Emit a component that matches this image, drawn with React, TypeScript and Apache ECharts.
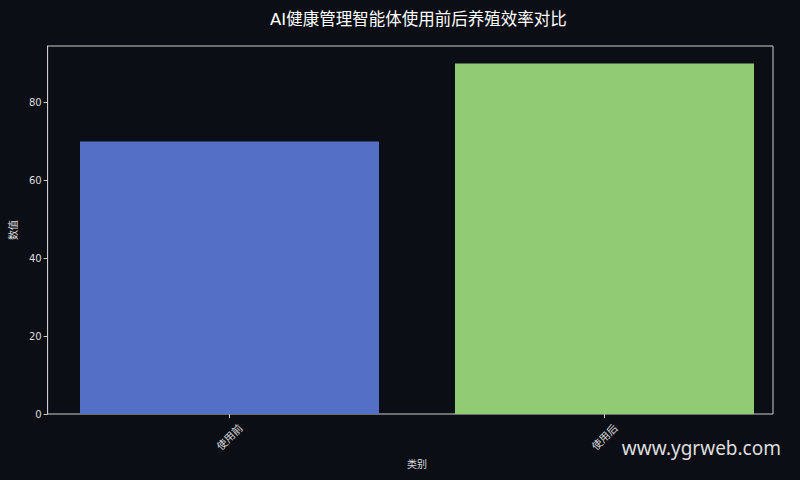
import React, { useEffect, useRef } from "react";
import * as echarts from "echarts";

const categories = ["使用前", "使用后"];
const values = [70, 90];
const barColors = ["#5470c6", "#91cc75"];
const yTicks = [0, 20, 40, 60, 80];

export default function App() {
  const ref = useRef<HTMLDivElement>(null);
  useEffect(() => {
    const chart = echarts.init(ref.current!, null, { renderer: "svg" });
    const font = "'DejaVu Sans', 'Noto Sans CJK SC', sans-serif";
    chart.setOption({
      animation: false,
      backgroundColor: "#0c0e15",
      title: {
        text: "AI健康管理智能体使用前后养殖效率对比",
        left: 265,
        top: 6,
        textStyle: { color: "#ffffff", fontSize: 16.5, fontWeight: "normal", fontFamily: font },
      },
      grid: [
        { left: 42, width: 750, top: 46, bottom: 66 },
        { left: 46, right: 27, top: 46, bottom: 66, show: true, borderColor: "#cccccc", borderWidth: 1, backgroundColor: "transparent" },
      ],
      xAxis: [
        {
          type: "category",
          gridIndex: 0,
          data: categories,
          axisLine: { show: false },
          axisTick: { show: true, alignWithLabel: true, length: 4, lineStyle: { color: "#cccccc" } },
          axisLabel: {
            color: "#dddddd",
            fontSize: 10.5,
            rotate: 45,
            align: "center",
            verticalAlign: "middle",
            fontFamily: font,
            margin: 23,
          },
          name: "类别",
          nameLocation: "middle",
          nameGap: 45,
          nameTextStyle: { color: "#dddddd", fontSize: 10, fontFamily: font },
        },
        { type: "value", gridIndex: 1, show: false, min: 0, max: 1 },
      ],
      yAxis: [
        { type: "value", gridIndex: 0, show: false, min: 0, max: 94.5 },
        {
          type: "value",
          gridIndex: 1,
          min: 0,
          max: 94.5,
          splitLine: { show: false },
          axisLine: { show: true, lineStyle: { color: "#cccccc" } },
          axisTick: { show: true, length: 4, customValues: yTicks, lineStyle: { color: "#cccccc" } },
          axisLabel: {
            color: "#dddddd",
            fontSize: 10,
            fontFamily: font,
            margin: 6,
            customValues: yTicks,
          },
          name: "数值",
          nameLocation: "middle",
          nameGap: 28,
          nameRotate: 90,
          nameTextStyle: { color: "#dddddd", fontSize: 10, fontFamily: font },
        },
      ],
      series: [
        {
          type: "bar",
          xAxisIndex: 0,
          yAxisIndex: 0,
          barWidth: 299,
          data: values.map((v, i) => ({ value: v, itemStyle: { color: barColors[i] } })),
        },
      ],
      graphic: [
        {
          type: "text",
          right: 19,
          bottom: 23,
          style: {
            text: "www.ygrweb.com",
            fill: "#dddddd",
            fontSize: 19,
            fontFamily: "'Noto Sans', sans-serif",
          },
        },
      ],
    });
    return () => chart.dispose();
  }, []);
  return <div ref={ref} style={{ position: "fixed", left: 0, top: 0, width: 800, height: 480 }} />;
}
